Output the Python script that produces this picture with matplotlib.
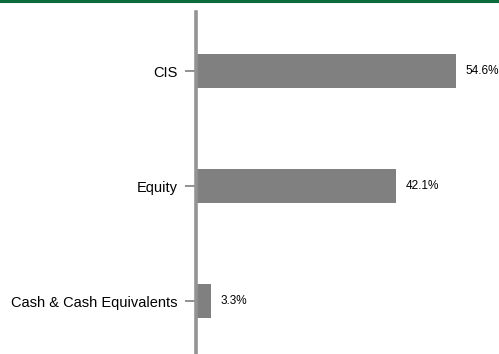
import matplotlib
matplotlib.use("Agg")
import matplotlib.pyplot as plt
from matplotlib.lines import Line2D

categories = ["Cash & Cash Equivalents", "Equity", "CIS"]
values = [3.3, 42.1, 54.6]
labels = ["3.3%", "42.1%", "54.6%"]

plt.rcParams["font.family"] = ["Liberation Sans", "DejaVu Sans"]

W, H = 499, 354
fig = plt.figure(figsize=(W / 100, H / 100), dpi=100)
left = 195.5 / W
bottom = 0.0
top = (H - 12) / H
ax = fig.add_axes([left, bottom, 1 - left, top - bottom])

# green rule across the top
fig.add_artist(Line2D([0, 1], [1 - 1 / H, 1 - 1 / H], color="#0b6b3a", lw=2.2,
                      transform=fig.transFigure))

pos = range(len(categories))
ax.barh(pos, values, height=0.3, color="#808080", zorder=1)
for p, v, t in zip(pos, values, labels):
    ax.text(v + 1.9, p, t, va="center", ha="left", fontsize=8.5, color="black")

ax.set_xlim(0, 63.6)
ax.set_ylim(-0.46, 2.513)
ax.set_yticks(list(pos))
ax.set_yticklabels(categories, fontsize=10.5)
ax.set_xticks([])
for s in ["top", "right", "bottom"]:
    ax.spines[s].set_visible(False)
ax.spines["left"].set_color("#939393")
ax.spines["left"].set_linewidth(2.6)
ax.spines["left"].set_zorder(3)
ax.tick_params(axis="y", length=8, width=1.3, color="#888888", pad=5)

fig.savefig("out.png", dpi=100)
